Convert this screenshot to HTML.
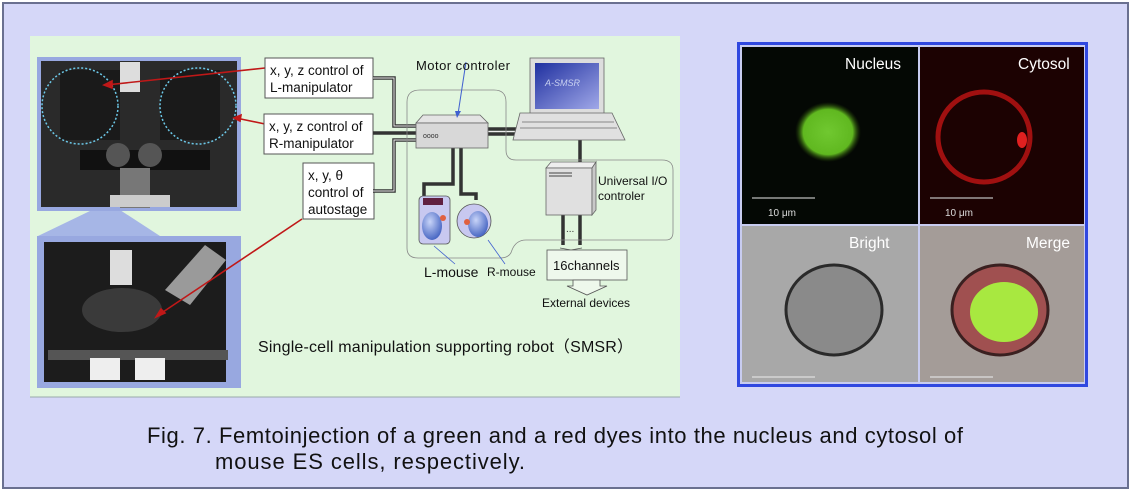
<!DOCTYPE html>
<html><head><meta charset="utf-8"><style>
body{margin:0;width:1132px;height:492px;overflow:hidden;background:#fff;font-family:"Liberation Sans",sans-serif}
svg{display:block}
</style></head><body>
<svg width="1132" height="492" xmlns="http://www.w3.org/2000/svg" font-family="Liberation Sans, sans-serif">
<defs>
<radialGradient id="gn" cx="0.5" cy="0.5" r="0.5"><stop offset="0" stop-color="#70c830"/><stop offset="0.75" stop-color="#60b820"/><stop offset="1" stop-color="#2a4a08" stop-opacity="0"/></radialGradient>
<linearGradient id="scr" x1="0" y1="0" x2="1" y2="1"><stop offset="0" stop-color="#2030a0"/><stop offset="1" stop-color="#a0a8e8"/></linearGradient>
<radialGradient id="ms" cx="0.4" cy="0.35" r="0.7"><stop offset="0" stop-color="#c8d4f8"/><stop offset="1" stop-color="#4060c0"/></radialGradient>
</defs>
<rect x="0" y="0" width="1132" height="492" fill="#fff"/>
<rect x="3" y="3" width="1125" height="485" fill="#d5d7f8" stroke="#6a7090" stroke-width="2"/>
<rect x="30" y="36" width="650" height="361" fill="#e1f6de"/>
<polygon points="92,210 120,210 160,236 38,236" fill="#a6b6e6"/>
<rect x="37" y="57" width="204" height="154" fill="#98a8e0"/>
<rect x="41" y="61" width="196" height="146" fill="#2a2a2a"/>
<rect x="60" y="70" width="60" height="70" fill="#1a1a1a"/>
<rect x="160" y="70" width="60" height="70" fill="#1a1a1a"/>
<rect x="120" y="62" width="20" height="30" fill="#ddd"/>
<rect x="80" y="150" width="130" height="20" fill="#111"/>
<circle cx="118" cy="155" r="12" fill="#555"/><circle cx="150" cy="155" r="12" fill="#555"/>
<rect x="120" y="168" width="30" height="40" fill="#777"/>
<rect x="110" y="195" width="60" height="12" fill="#ccc"/>
<circle cx="80" cy="106" r="38" fill="none" stroke="#6cc8e8" stroke-width="1.5" stroke-dasharray="2,2"/>
<circle cx="198" cy="106" r="38" fill="none" stroke="#6cc8e8" stroke-width="1.5" stroke-dasharray="2,2"/>
<rect x="37" y="236" width="204" height="152" fill="#98a8e0"/>
<rect x="44" y="242" width="182" height="140" fill="#1c1c1c"/>
<rect x="110" y="250" width="22" height="35" fill="#ddd"/>
<polygon points="165,290 205,245 226,260 190,305" fill="#9a9a9a"/>
<ellipse cx="122" cy="310" rx="40" ry="22" fill="#3a3a3a"/>
<rect x="48" y="350" width="180" height="10" fill="#555"/>
<rect x="90" y="358" width="30" height="22" fill="#eee"/><rect x="135" y="358" width="30" height="22" fill="#eee"/>
<g stroke="#c01818" stroke-width="1.6" fill="#c01818">
<line x1="265" y1="68" x2="106" y2="85"/><polygon points="104,85 112,81 112,88"/>
<line x1="265" y1="124" x2="236" y2="118"/><polygon points="234,118 241,115 240,121"/>
<line x1="302" y1="219" x2="160" y2="314"/><polygon points="156,317 161,309 165,313"/>
</g>
<g fill="#fff" stroke="#555" stroke-width="1">
<rect x="265" y="58" width="108" height="40"/>
<rect x="264" y="114" width="109" height="40"/>
<rect x="303" y="163" width="71" height="56"/>
</g>
<g font-size="13.5" fill="#111">
<text x="270" y="75">x, y, z control of</text><text x="270" y="92">L-manipulator</text>
<text x="269" y="131">x, y, z control of</text><text x="269" y="148">R-manipulator</text>
<text x="308" y="180">x, y, θ</text><text x="308" y="197">control of</text><text x="308" y="214">autostage</text>
</g>
<g fill="none" stroke="#333" stroke-width="3.5">
<polyline points="373,78 394,78 394,126 416,126"/>
<polyline points="373,133 416,133"/>
<polyline points="373,191 394,191 394,140 416,140"/>
<polyline points="488,129 530,129"/>
<polyline points="488,134 530,134"/>
<polyline points="453,148 453,184 424,184 424,197"/>
<polyline points="461,148 461,194 476,194 476,200"/>
<line x1="580" y1="140" x2="580" y2="168"/>
<line x1="563" y1="215" x2="563" y2="245"/><line x1="580" y1="215" x2="580" y2="245"/>
</g>
<g fill="none" stroke="#eee" stroke-width="1">
<polyline points="373,78 394,78 394,126 416,126"/><polyline points="373,191 394,191 394,140 416,140"/>
<line x1="488" y1="131.5" x2="530" y2="131.5"/>
</g>
<path d="M420,90 H494 Q506,90 506,102 V150 Q506,160 516,160 H560" fill="none" stroke="#888" stroke-width="0.8"/>
<path d="M420,90 Q407,90 407,102 V248 Q407,258 418,258 H500 Q510,258 512,250 Q516,240 526,240 H666 Q673,240 673,232 V170 Q673,160 662,160 H560" fill="none" stroke="#888" stroke-width="0.8"/>
<polygon points="423,115 480,115 488,123 416,123" fill="#e4e4e4" stroke="#666" stroke-width="0.8"/>
<rect x="416" y="123" width="72" height="25" fill="#d8d8d8" stroke="#666" stroke-width="0.8"/>
<text x="423" y="138" font-size="7" fill="#333">oooo</text>
<line x1="466" y1="62" x2="458" y2="114" stroke="#4060d0" stroke-width="1"/>
<polygon points="457,118 455,111 461,111" fill="#4060d0"/>
<text x="416" y="70" font-size="13" fill="#111" textLength="94">Motor controler</text>
<rect x="530" y="58" width="74" height="56" fill="#ddd" stroke="#666" stroke-width="0.8"/>
<rect x="535" y="63" width="64" height="46" fill="url(#scr)"/>
<text x="545" y="86" font-size="9" fill="#c8d0f0" font-style="italic">A-SMSR</text>
<polygon points="520,113 612,113 625,140 513,140" fill="#e0e0e0" stroke="#666" stroke-width="0.8"/>
<line x1="522" y1="122" x2="614" y2="122" stroke="#888"/><line x1="520" y1="128" x2="617" y2="128" stroke="#888"/>
<polygon points="546,168 551,162 596,162 592,168" fill="#eee" stroke="#666" stroke-width="0.8"/>
<rect x="546" y="168" width="46" height="47" fill="#e0e0e0" stroke="#666" stroke-width="0.8"/>
<polygon points="592,168 596,162 596,210 592,215" fill="#c8c8c8" stroke="#666" stroke-width="0.8"/>
<line x1="549" y1="173" x2="572" y2="173" stroke="#444"/><line x1="549" y1="176" x2="572" y2="176" stroke="#444"/>
<text x="598" y="185" font-size="12" fill="#111">Universal I/O</text>
<text x="598" y="200" font-size="12" fill="#111">controler</text>
<text x="566" y="232" font-size="10" fill="#333">...</text>
<path d="M560,248 L571,250 L582,248" fill="none" stroke="#555" stroke-width="0.8"/>
<rect x="547" y="250" width="80" height="30" fill="#eef8ec" stroke="#555" stroke-width="0.8"/>
<text x="553" y="270" font-size="13" fill="#111">16channels</text>
<polygon points="573,280 600,280 600,286 607,286 587,295 567,286 573,286" fill="#eef8ec" stroke="#555" stroke-width="0.8"/>
<text x="542" y="307" font-size="12" fill="#111">External devices</text>
<rect x="419" y="196" width="31" height="48" rx="4" fill="#c8c8f0" stroke="#555" stroke-width="0.8"/>
<rect x="423" y="198" width="20" height="7" fill="#602040"/>
<ellipse cx="432" cy="226" rx="10" ry="14" fill="url(#ms)"/>
<circle cx="443" cy="218" r="3" fill="#e06040"/>
<circle cx="474" cy="221" r="17" fill="#c8c8f0" stroke="#555" stroke-width="0.8"/>
<ellipse cx="478" cy="224" rx="10" ry="13" fill="url(#ms)"/>
<circle cx="467" cy="222" r="3" fill="#e06040"/>
<g stroke="#4060d0" stroke-width="0.8"><line x1="455" y1="264" x2="434" y2="246"/><line x1="505" y1="264" x2="488" y2="240"/></g>
<text x="424" y="277" font-size="14" fill="#111">L-mouse</text>
<text x="487" y="276" font-size="12" fill="#111">R-mouse</text>
<text x="258" y="352" font-size="16" fill="#111" textLength="375">Single-cell manipulation supporting robot（SMSR）</text>
<line x1="30" y1="397" x2="680" y2="397" stroke="#9aa" stroke-width="1"/>
<rect x="737" y="42" width="351" height="345" fill="#3048e0"/>
<rect x="740" y="45" width="345" height="339" fill="#c8ccf0"/>
<rect x="742" y="47" width="176" height="177" fill="#040804"/>
<rect x="920" y="47" width="164" height="177" fill="#1c0202"/>
<rect x="742" y="226" width="176" height="156" fill="#a8a8a8"/>
<rect x="920" y="226" width="164" height="156" fill="#a49c98"/>
<ellipse cx="828" cy="132" rx="33" ry="30" fill="url(#gn)"/>
<ellipse cx="984" cy="137" rx="46" ry="45" fill="none" stroke="#a01010" stroke-width="5"/>
<ellipse cx="1022" cy="140" rx="5" ry="8" fill="#e02020"/>
<ellipse cx="834" cy="310" rx="48" ry="45" fill="#8a8a8a" stroke="#2a2a2a" stroke-width="3"/>
<ellipse cx="1000" cy="310" rx="48" ry="45" fill="#a05050" stroke="#3a2020" stroke-width="3"/>
<ellipse cx="1004" cy="312" rx="34" ry="30" fill="#a8e840"/>
<g stroke="#bbb" stroke-width="1.3"><line x1="752" y1="198" x2="815" y2="198"/><line x1="930" y1="198" x2="993" y2="198"/></g>
<g stroke="#ddd" stroke-width="1.3"><line x1="752" y1="377" x2="815" y2="377"/><line x1="930" y1="377" x2="993" y2="377"/></g>
<g fill="#fff" font-size="15.5"><text x="845" y="69">Nucleus</text><text x="1018" y="69">Cytosol</text><text x="849" y="248">Bright</text><text x="1026" y="248">Merge</text></g>
<g fill="#ddd" font-size="10"><text x="768" y="216">10 μm</text><text x="945" y="216">10 μm</text></g>
<text x="147" y="443" font-size="22" fill="#111" textLength="816">Fig. 7. Femtoinjection of a green and a red  dyes into the nucleus and cytosol of</text>
<text x="215" y="469" font-size="22" fill="#111" textLength="310">mouse ES cells, respectively.</text>
</svg>
</body></html>
